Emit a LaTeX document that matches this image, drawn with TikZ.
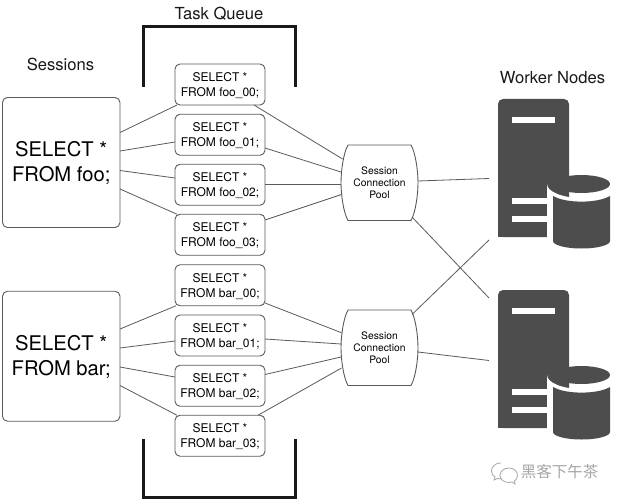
\documentclass[tikz,border=0pt]{standalone}
\usepackage{fontspec}
\setmainfont{TeX Gyre Heros}
\newfontfamily\cjkfont{Noto Sans CJK SC}
\definecolor{srv}{HTML}{4D4D4D}
\definecolor{edge}{HTML}{5A5A5A}
\definecolor{wm}{HTML}{A6A6A6}
\newcommand\firstlinetask{\rule{0pt}{11.2pt}}
\newcommand\firstlinesess{\rule{0pt}{16.6pt}}
\tikzset{
  taskbox/.style={draw=edge,line width=0.9pt,rounded corners=5pt,minimum width=90pt,minimum height=41pt,inner sep=0pt,outer sep=0pt,align=center,font=\fontsize{12}{15}\selectfont,fill=white},
  sessionbox/.style={draw=edge,line width=0.9pt,rounded corners=5pt,minimum width=117.5pt,minimum height=130pt,inner sep=0pt,outer sep=0pt,align=center,font=\fontsize{20.2}{25}\selectfont,fill=white},
  poolnode/.style={minimum width=77pt,minimum height=75.5pt,inner sep=0pt,outer sep=0pt,align=center,font=\fontsize{10.3}{12}\selectfont},
  heading/.style={inner sep=0pt,font=\fontsize{16.6}{19}\selectfont,text=black!90},
  conn/.style={draw=edge,line width=0.8pt},
  bracket/.style={draw=black!90,line width=2.4pt,line cap=butt,line join=miter},
  pics/poolshape/.style={code={
    \draw[edge,line width=0.9pt,fill=white] (-31.5,-37.75) -- (31.5,-37.75)
      .. controls (36,-30) and (38.5,-12) .. (38.5,0)
      .. controls (38.5,12) and (36,30) .. (31.5,37.75)
      -- (-31.5,37.75)
      .. controls (-36,30) and (-38.5,12) .. (-38.5,0)
      .. controls (-38.5,-12) and (-36,-30) .. (-31.5,-37.75) -- cycle;
  }},
  pics/server/.style={code={
    % origin: top-left of the tower
    \fill[srv,rounded corners=5pt] (0,138) -- (0,0) -- (71,0) -- (71,138) -- cycle;
    \fill[srv] (0,130) rectangle (71,138);
    \fill[white] (13.5,18.3) rectangle (57,24.3);
    \fill[white] (13.5,98.7) rectangle (60,104.7);
    \fill[white] (13.5,117) rectangle (60,123);
    % white halo round the drum
    \fill[white] (49,85) arc[start angle=180,end angle=0,x radius=34.5,y radius=14] -- (118,160) -- (49,160) -- cycle;
    % drum
    \fill[srv] (83.5,85) ellipse[x radius=28.5,y radius=9];
    \fill[srv] (55,97) .. controls (62,101) and (73,102.6) .. (83.5,102.6)
      .. controls (94,102.6) and (105,101) .. (112,97) -- (112,142)
      .. controls (112,146) and (100,149.5) .. (83.5,149.5)
      .. controls (67,149.5) and (55,146) .. (55,142) -- cycle;
  }}
}
\begin{document}
\begin{tikzpicture}[x=1pt,y=-1pt]
\useasboundingbox (0,0) rectangle (618,500);
\fill[white] (0,0) rectangle (618,500);

\node[sessionbox] (foo) at (61.25,162.5) {\firstlinesess SELECT *\\FROM foo;};
\node[sessionbox] (bar) at (61.25,356.25) {\firstlinesess SELECT *\\FROM bar;};

\node[taskbox] (f0) at (220,84.5) {\firstlinetask SELECT *\\FROM foo\_00;};
\node[taskbox] (f1) at (220,134.75) {\firstlinetask SELECT *\\FROM foo\_01;};
\node[taskbox] (f2) at (220,184.75) {\firstlinetask SELECT *\\FROM foo\_02;};
\node[taskbox] (f3) at (220,234.75) {\firstlinetask SELECT *\\FROM foo\_03;};
\node[taskbox] (b0) at (220,285.25) {\firstlinetask SELECT *\\FROM bar\_00;};
\node[taskbox] (b1) at (220,335.5) {\firstlinetask SELECT *\\FROM bar\_01;};
\node[taskbox] (b2) at (220,385.75) {\firstlinetask SELECT *\\FROM bar\_02;};
\node[taskbox] (b3) at (220,435.75) {\firstlinetask SELECT *\\FROM bar\_03;};

\pic at (379.5,182.75) {poolshape};
\pic at (379.5,347.75) {poolshape};
\node[poolnode] (p1) at (379.5,182.75) {Session\\Connection\\Pool};
\node[poolnode] (p2) at (379.5,347.75) {Session\\Connection\\Pool};

% servers
\pic at (498,99) {server};
\pic at (498,290) {server};
\coordinate (w1a) at (489,178.5);
\coordinate (w1b) at (489,240);
\coordinate (w2a) at (489,298);
\coordinate (w2b) at (489,360.5);

% session -> task
\draw[conn] ([yshift=30pt]foo.east) -- ([xshift=2pt]f0.south west);
\draw[conn] ([yshift=11.5pt]foo.east) -- ([yshift=-7.25pt]f1.west);
\draw[conn] ([yshift=-8pt]foo.east) -- ([yshift=6.75pt]f2.west);
\draw[conn] ([yshift=-26.5pt]foo.east) -- ([xshift=2pt]f3.north west);
\draw[conn] ([yshift=27.25pt]bar.east) -- ([xshift=1pt]b0.south west);
\draw[conn] ([yshift=8.25pt]bar.east) -- ([yshift=-5.5pt]b1.west);
\draw[conn] ([yshift=-10.75pt]bar.east) -- ([yshift=8.75pt]b2.west);
\draw[conn] ([yshift=-29.25pt]bar.east) -- ([xshift=2pt]b3.north west);

% task -> pool
\draw[conn] ([xshift=34pt]f0.south) -- ([xshift=-37pt,yshift=23.75pt]p1.center);
\draw[conn] ([yshift=-13.25pt]f1.east) -- ([xshift=-38.5pt,yshift=10.75pt]p1.center);
\draw[conn] ([yshift=0.75pt]f2.east) -- ([xshift=-38.5pt,yshift=-1.25pt]p1.center);
\draw[conn] ([yshift=14.75pt]f3.east) -- ([xshift=-38pt,yshift=-11.75pt]p1.center);
\draw[conn] ([yshift=-17.75pt]b0.east) -- ([xshift=-38pt,yshift=15pt]p2.center);
\draw[conn] ([yshift=-3.5pt]b1.east) -- ([xshift=-38.5pt,yshift=3.75pt]p2.center);
\draw[conn] ([yshift=11.25pt]b2.east) -- ([xshift=-38.5pt,yshift=-9.25pt]p2.center);
\draw[conn] ([xshift=38pt]b3.north) -- ([xshift=-38pt,yshift=-20.25pt]p2.center);

% pool -> worker
\draw[conn] ([yshift=1.75pt]p1.east) -- (w1a);
\draw[conn] ([xshift=-6pt,yshift=3.5pt]p1.south east) -- (w2a);
\draw[conn] ([xshift=-6pt,yshift=-4.5pt]p2.north east) -- (w1b);
\draw[conn] ([yshift=-4.25pt]p2.east) -- (w2b);

% brackets
\draw[bracket] (143.5,87) -- (143.5,26.5) -- (295.5,26.5) -- (295.5,87);
\draw[bracket] (143.5,439) -- (143.5,497.5) -- (295.5,497.5) -- (295.5,439);

% headings
\node[heading] (tq) at (219,13.5) {Task Queue};
\node[heading] (ss) at (60.5,64) {Sessions};
\node[heading] (wn) at (552.5,78) {Worker Nodes};

% watermark
\begin{scope}[draw=wm,line width=0.8pt]
\draw (501,463) .. controls (494,463) and (491.5,468) .. (491.5,471) .. controls (491.5,474) and (493,476) .. (495,477) -- (494,480) -- (497.5,478.5) .. controls (499,479) and (500,479) .. (502,479);
\draw (509,468) .. controls (503,468) and (500,472) .. (500,475.5) .. controls (500,479) and (503.5,482.5) .. (509,482.5) .. controls (510.5,482.5) and (511,482.5) .. (512,482) -- (515,484) -- (514.5,481) .. controls (516.5,479.5) and (517.5,477.5) .. (517.5,475.5) .. controls (517.5,471.5) and (514,468) .. (509,468);
\end{scope}
\node[inner sep=0pt,text=wm,font=\cjkfont\fontsize{15.5}{18}\selectfont] (wmt) at (559.5,472) {黑客下午茶};
\end{tikzpicture}
\end{document}
